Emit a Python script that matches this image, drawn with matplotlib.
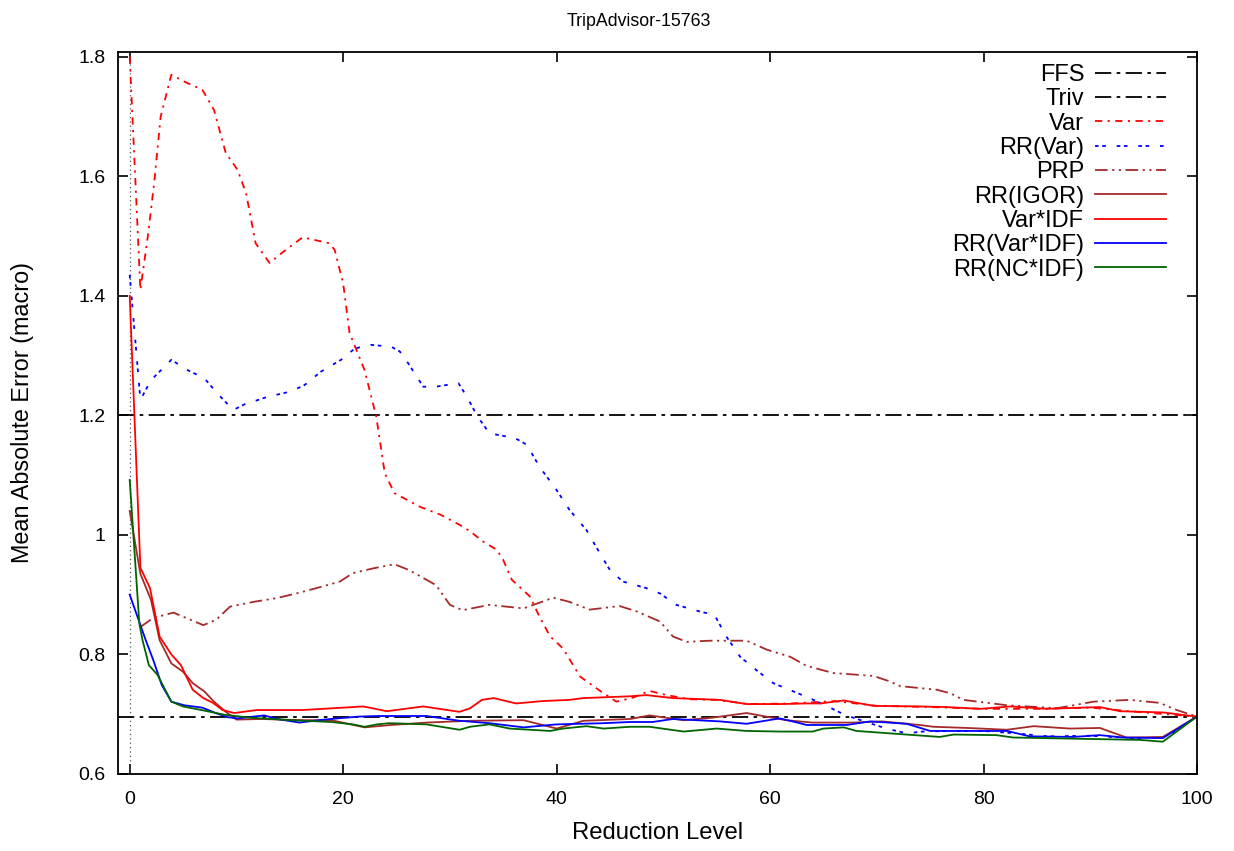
import matplotlib
matplotlib.use("Agg")
import matplotlib.pyplot as plt

plt.rcParams["font.family"] = ["Liberation Sans", "DejaVu Sans"]

# reference levels
ffs_level = 1.2
triv_level = 0.696

var_x = [0, 1, 1.7, 2.3, 2.9, 3.9, 5.4, 6.8, 7.9, 9.0, 10.1, 10.9, 11.8, 13.1, 14.2, 16.2,
         18.7, 19.2, 20.0, 20.6, 22.0, 23.1, 23.9, 24.8, 27.2, 29.1, 30.9, 31.9, 33.1, 34.4,
         35.0, 35.8, 37.5, 38.4, 39.4, 40.6, 42.2, 44.0, 45.6, 47.2, 48.7, 50.3, 52.5, 55.0,
         58, 62, 66, 70, 75, 80, 85, 90, 95, 100]
var_y = [1.80, 1.41, 1.50, 1.59, 1.70, 1.77, 1.756, 1.745, 1.711, 1.639, 1.611, 1.572, 1.488,
         1.455, 1.471, 1.498, 1.488, 1.477, 1.421, 1.338, 1.276, 1.198, 1.103, 1.070, 1.047,
         1.034, 1.017, 1.006, 0.989, 0.975, 0.958, 0.925, 0.897, 0.863, 0.830, 0.810, 0.763,
         0.740, 0.721, 0.728, 0.739, 0.732, 0.725, 0.724, 0.717, 0.718, 0.722, 0.714, 0.712,
         0.709, 0.709, 0.711, 0.703, 0.696]

rrvar_x = [0, 1.0, 2.0, 3.9, 5.4, 7.0, 8.2, 9.7, 10.7, 12.9, 15.1, 16.4, 17.9, 19.8, 21.1,
           22.6, 24.5, 25.3, 26.1, 27.5, 28.7, 30.8, 31.6, 32.6, 33.7, 36.1, 37.2, 38.4, 40.0,
           41.2, 42.8, 43.7, 45.0, 46.2, 48.4, 49.7, 51.2, 53.4, 54.8, 55.9, 57.2, 58.7, 60.3,
           62.2, 63.7, 65.5, 67.0, 69.0, 70.9, 72.8, 74.3, 77, 80, 83, 86, 90, 94, 97, 100]
rrvar_y = [1.435, 1.226, 1.259, 1.293, 1.276, 1.262, 1.237, 1.209, 1.218, 1.231, 1.240, 1.251,
           1.273, 1.293, 1.312, 1.318, 1.315, 1.307, 1.287, 1.248, 1.248, 1.254, 1.231, 1.198,
           1.170, 1.162, 1.151, 1.114, 1.075, 1.042, 1.008, 0.980, 0.941, 0.922, 0.911, 0.902,
           0.883, 0.872, 0.866, 0.830, 0.796, 0.774, 0.752, 0.738, 0.727, 0.712, 0.699, 0.687,
           0.676, 0.668, 0.671, 0.672, 0.672, 0.668, 0.663, 0.664, 0.660, 0.661, 0.696]

prp_x = [1, 2.2, 4.1, 5.3, 6.9, 8.1, 9.4, 11.6, 13.7, 15.6, 17.5, 19.7, 20.9, 22.8, 24.8, 26.2,
         28.7, 30.0, 31.2, 33.7, 36.9, 39.7, 41.2, 43.1, 45.9, 47.5, 49.7, 50.9, 52.2, 54.3,
         57.8, 59.7, 61.9, 63.4, 65.9, 69.7, 71.2, 72.2, 75.6, 76.9, 78.1, 82.2, 86.9, 90.3,
         93.7, 96.5, 98.1, 100]
prp_y = [0.846, 0.861, 0.870, 0.861, 0.849, 0.858, 0.880, 0.888, 0.894, 0.902, 0.911, 0.922,
         0.936, 0.944, 0.951, 0.941, 0.916, 0.883, 0.874, 0.883, 0.877, 0.895, 0.888, 0.875,
         0.881, 0.872, 0.855, 0.830, 0.821, 0.823, 0.823, 0.808, 0.796, 0.781, 0.769, 0.764,
         0.755, 0.747, 0.741, 0.735, 0.724, 0.715, 0.710, 0.721, 0.724, 0.719, 0.707, 0.696]

igor_x = [0, 1, 2.0, 2.8, 3.9, 5.0, 5.9, 7.0, 7.9, 9.0, 10.0, 12.3, 16.4, 18.9, 22.0, 24.5,
          27.8, 31.9, 36.9, 40.0, 42.5, 46.9, 48.7, 51.9, 54.5, 57.8, 61.5, 64.0, 67.8, 70.5,
          74.0, 75.3, 78.5, 82.2, 84.7, 88.1, 90.9, 93.4, 96.8, 100]
igor_y = [1.04, 0.935, 0.891, 0.824, 0.785, 0.771, 0.752, 0.738, 0.721, 0.704, 0.691, 0.692,
          0.690, 0.690, 0.678, 0.682, 0.686, 0.689, 0.690, 0.676, 0.689, 0.692, 0.698, 0.690,
          0.694, 0.702, 0.690, 0.686, 0.686, 0.688, 0.682, 0.679, 0.677, 0.674, 0.680, 0.676,
          0.677, 0.661, 0.662, 0.696]

varidf_x = [0, 1, 1.9, 2.8, 3.9, 4.8, 5.9, 6.9, 7.8, 8.7, 9.8, 11.9, 16.2, 21.9, 24.1, 26.2,
            27.5, 30.9, 31.9, 33.0, 34.1, 36.2, 38.7, 41.2, 42.5, 46.9, 48.4, 50.9, 55.3, 57.8,
            60.9, 63.4, 64.7, 66.9, 69.7, 74.0, 76.5, 79.7, 82.5, 85.9, 90.9, 92.8, 96.8, 100]
varidf_y = [1.40, 0.945, 0.911, 0.830, 0.800, 0.782, 0.741, 0.727, 0.719, 0.707, 0.702, 0.707,
            0.707, 0.713, 0.705, 0.710, 0.713, 0.704, 0.710, 0.724, 0.727, 0.718, 0.722, 0.724,
            0.727, 0.730, 0.732, 0.727, 0.724, 0.717, 0.717, 0.718, 0.718, 0.723, 0.714, 0.713,
            0.712, 0.709, 0.713, 0.709, 0.712, 0.705, 0.703, 0.696]

rrvaridf_x = [0, 1.5, 2.2, 3.0, 3.9, 5.1, 6.8, 8.2, 9.2, 10.1, 12.6, 13.8, 15.9, 18.2, 21.4,
              23.3, 27.8, 30.9, 33.7, 36.9, 40.0, 44.4, 46.9, 49.0, 50.9, 55.3, 57.8, 60.9,
              62.8, 63.4, 67.2, 69.4, 72.8, 75.0, 79.7, 82.2, 84.3, 88.4, 90.9, 93.1, 96.8, 100]
rrvaridf_y = [0.900, 0.824, 0.791, 0.749, 0.721, 0.715, 0.711, 0.701, 0.695, 0.693, 0.698,
              0.692, 0.686, 0.691, 0.696, 0.697, 0.697, 0.689, 0.685, 0.678, 0.683, 0.685,
              0.687, 0.687, 0.692, 0.688, 0.684, 0.693, 0.685, 0.682, 0.682, 0.688, 0.684,
              0.672, 0.672, 0.672, 0.663, 0.662, 0.665, 0.661, 0.660, 0.696]

ncidf_x = [0, 0.9, 1.2, 1.8, 2.6, 3.9, 5.0, 7.0, 8.9, 11.4, 15.1, 18.9, 20.9, 22.0, 23.2, 24.3,
           27.8, 30.9, 31.9, 33.7, 35.6, 39.4, 40.6, 42.8, 44.4, 46.9, 48.7, 51.9, 55.0, 57.8,
           60.9, 64.0, 65.0, 66.9, 68.1, 71.2, 75.9, 77.2, 81.2, 82.8, 94.7, 96.8, 100]
ncidf_y = [1.092, 0.852, 0.824, 0.782, 0.766, 0.721, 0.713, 0.706, 0.699, 0.694, 0.690, 0.687,
           0.683, 0.679, 0.683, 0.685, 0.683, 0.674, 0.679, 0.683, 0.676, 0.672, 0.676, 0.680,
           0.676, 0.679, 0.679, 0.671, 0.676, 0.672, 0.671, 0.671, 0.676, 0.678, 0.672, 0.668,
           0.662, 0.666, 0.665, 0.661, 0.657, 0.654, 0.696]

fig = plt.figure(figsize=(12.34, 8.51), dpi=100)
ax = fig.add_axes([0.0956, 0.0905, 0.8744, 0.8484])

lw = 1.3
dashdot = (0, (9, 3, 2, 3))
ax.axvline(0, color="#555555", linestyle=(0, (1, 2.5)), lw=0.9)
ax.axhline(ffs_level, color="black", linestyle=dashdot, lw=lw, label="FFS")
ax.axhline(triv_level, color="black", linestyle=dashdot, lw=lw, label="Triv")
ax.plot(var_x, var_y, color="#ff0000", linestyle=(0, (4, 3, 1.2, 3)), lw=lw, label="Var")
ax.plot(rrvar_x, rrvar_y, color="#0000ff", linestyle=(0, (2, 2, 2, 6)), lw=lw, label="RR(Var)")
ax.plot(prp_x, prp_y, color="#a52a2a", linestyle=(0, (7, 2.5, 1.2, 2.5, 1.2, 2.5)), lw=lw, label="PRP")
ax.plot(igor_x, igor_y, color="#a52a2a", lw=lw, label="RR(IGOR)")
ax.plot(varidf_x, varidf_y, color="#ff0000", lw=lw, label="Var*IDF")
ax.plot(rrvaridf_x, rrvaridf_y, color="#0000ff", lw=lw, label="RR(Var*IDF)")
ax.plot(ncidf_x, ncidf_y, color="#006400", lw=lw, label="RR(NC*IDF)")

ax.set_xlim(-1.1, 100)
ax.set_ylim(0.6, 1.808)
ax.set_xticks([0, 20, 40, 60, 80, 100])
ax.set_yticks([0.6, 0.8, 1.0, 1.2, 1.4, 1.6, 1.8])
ax.set_yticklabels(["0.6", "0.8", "1", "1.2", "1.4", "1.6", "1.8"])
ax.tick_params(direction="in", length=7, width=1.2, top=True, right=True,
               labelsize=14, pad=9)
ax.tick_params(axis="x", pad=12)
for s in ax.spines.values():
    s.set_linewidth(1.3)

fig.text(0.518, 1 - 22 / 851, "TripAdvisor-15763", fontsize=12.8, ha="center", va="center")
ax.set_xlabel("Reduction Level", fontsize=17.2, labelpad=10)
ax.set_ylabel("Mean Absolute Error (macro)", fontsize=16.8, labelpad=32)

ax.legend(loc="upper right", bbox_to_anchor=(0.982, 1.0), frameon=False,
          markerfirst=False, fontsize=17, handlelength=3.0, handletextpad=0.45,
          labelspacing=0.1, borderaxespad=0.1)

fig.savefig("out.png", dpi=100)
